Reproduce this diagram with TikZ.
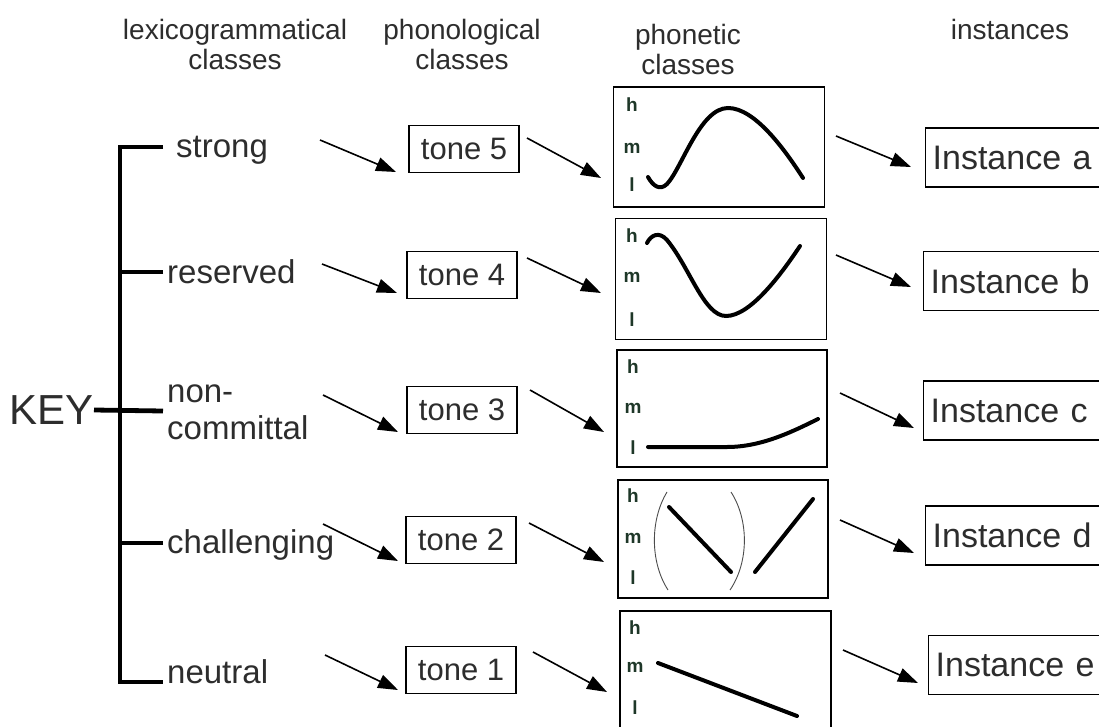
\documentclass[tikz,border=0pt]{standalone}
\usepackage{fontspec}
\setmainfont{Liberation Sans}
\usetikzlibrary{arrows.meta}
\definecolor{txt}{RGB}{45,45,45}
\definecolor{hmlc}{RGB}{30,55,40}
\tikzset{
  hdr/.style={font=\fontsize{28}{30}\selectfont, align=center, text=txt, inner sep=0},
  lbl/.style={font=\fontsize{33}{37}\selectfont, anchor=west, align=left, text=txt, inner sep=0},
  tonebox/.style={draw, line width=1.3pt, font=\fontsize{31}{31}\selectfont, text=txt, minimum width=110pt, minimum height=47pt, inner sep=0},
  phbox/.style={draw, line width=1.3pt, inner sep=0},
  instbox/.style={draw, line width=1.3pt, anchor=west, font=\fontsize{34}{34}\selectfont, text=txt, minimum height=59pt, text width=190pt, align=left, inner xsep=7pt, inner ysep=0},
  arr/.style={line width=1.6pt, -{Triangle[length=20pt,width=14pt]}},
  brk/.style={line width=4.8pt},
  tonecurve/.style={line width=4pt, line cap=round},
  paren/.style={line width=0.9pt, black!70},
  hml/.style={font=\bfseries\fontsize{19}{19}\selectfont, text=hmlc, inner sep=0}
}
\begin{document}
\begin{tikzpicture}[x=1pt,y=-1pt]
\useasboundingbox (0,0) rectangle (1099,727);
\clip (0,0) rectangle (1099,727);
\fill[white] (0,0) rectangle (1099,727);

% headers
\node[hdr] (h1) at (235,44) {lexicogrammatical\\classes};
\node[hdr] (h2) at (462,44) {phonological\\classes};
\node[hdr] (h3) at (688,49) {phonetic\\classes};
\node[hdr] (h4) at (1010,29) {instances};

% KEY bracket
\node[font=\fontsize{42}{42}\selectfont, text=txt, inner sep=0, anchor=east] (key) at (94,410) {KEY};
\coordinate (b1) at (120,147);
\coordinate (b5) at (120,682);
\coordinate (t1) at (163,147);
\coordinate (t2) at (163,272);
\coordinate (t3) at (163,411);
\coordinate (t4) at (163,543);
\coordinate (t5) at (163,682);
\draw[brk] (t1) -- (b1) -- (b5) -- (t5);
\draw[brk] (t2) -- (b1 |- t2);
\draw[brk] (key.east) -- (t3);
\draw[brk] (t4) -- (b1 |- t4);

% class labels
\node[lbl] (c1) at (176,150) {strong};
\node[lbl] (c2) at (167,272) {reserved};
\node[lbl] (c3) at (167,412) {non-\\committal};
\node[lbl] (c4) at (167,545) {challenging};
\node[lbl] (c5) at (167,672) {neutral};

% tone boxes
\node[tonebox] (p1) at (464,149) {tone 5};
\node[tonebox] (p2) at (462,275) {tone 4};
\node[tonebox] (p3) at (462,410) {tone 3};
\node[tonebox] (p4) at (461,540) {tone 2};
\node[tonebox] (p5) at (461,670) {tone 1};

% phonetic boxes
\node[phbox, minimum width=211pt, minimum height=120pt] (f1) at (719,147) {};
\node[phbox, minimum width=211pt, minimum height=121pt] (f2) at (721,279) {};
\node[phbox, minimum width=210pt, minimum height=117pt] (f3) at (722,408.5) {};
\node[phbox, minimum width=210pt, minimum height=118pt] (f4) at (723,539) {};
\node[phbox, minimum width=211pt, minimum height=118pt] (f5) at (725.5,670) {};

% h m l
\foreach \b/\x/\yh/\ym/\yl in {f1/632/105/148/185, f2/632/236/277/320, f3/633/367/408/448, f4/633/496/538/578, f5/635/628/667/708}{
  \node[hml] (\b h) at (\x,\yh) {h};
  \node[hml] (\b m) at (\x,\ym) {m};
  \node[hml] (\b l) at (\x,\yl) {l};
}

% curves
\draw[tonecurve] (648,177) .. controls (653,186) and (660,191) .. (667,184)
  .. controls (682,168) and (700,108) .. (728,108)
  .. controls (755,108) and (785,150) .. (803,178);
\draw[tonecurve] (647,243) .. controls (651,235) and (659,231) .. (667,240)
  .. controls (690,268) and (704,316) .. (726,316)
  .. controls (750,316) and (780,276) .. (800,246);
\draw[tonecurve] (648,447) -- (727,447) .. controls (760,447) and (790,433) .. (818,419);
\draw[paren] (667,492) .. controls (650,520) and (650,562) .. (668,590);
\draw[paren] (731,492) .. controls (749,520) and (749,562) .. (730,590);
\draw[tonecurve] (669,507) -- (731,572);
\draw[tonecurve] (755,572) -- (813,499);
\draw[tonecurve] (658,663) -- (797,716);

% instance boxes
\node[instbox] (i1) at (925,157.5) {Instance a};
\node[instbox] (i2) at (923,281) {Instance b};
\node[instbox] (i3) at (923,410.5) {Instance c};
\node[instbox] (i4) at (925,535.5) {Instance d};
\node[instbox] (i5) at (928,665) {Instance e};

% arrows
\foreach \n/\ax/\ay/\bx/\by in {1/320/140/396/172, 2/322/264/397/293, 3/323/395/398/432, 4/323/524/398/561, 5/325/655/398/690}{
  \coordinate (ca\n) at (\ax,\ay);
  \coordinate (cb\n) at (\bx,\by);
  \draw[arr] (ca\n) -- (cb\n);
}
\foreach \n/\ax/\ay/\bx/\by in {1/527/138/601/178, 2/527/258/601/293, 3/530/390/604/432, 4/529/523/604/562, 5/533/652/607/692}{
  \coordinate (da\n) at (\ax,\ay);
  \coordinate (db\n) at (\bx,\by);
  \draw[arr] (da\n) -- (db\n);
}
\foreach \n/\ax/\ay/\bx/\by in {1/836/136/911/167, 2/836/255/911/287, 3/840/393/914/428, 4/840/520/914/553, 5/843/650/918/683}{
  \coordinate (ea\n) at (\ax,\ay);
  \coordinate (eb\n) at (\bx,\by);
  \draw[arr] (ea\n) -- (eb\n);
}
\end{tikzpicture}
\end{document}
